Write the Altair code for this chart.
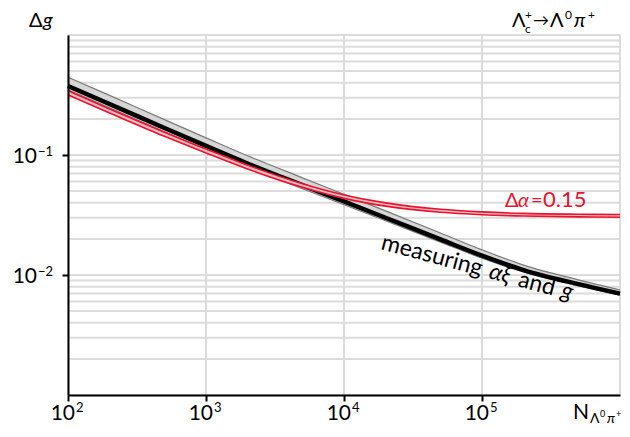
import altair as alt
import pandas as pd

# ---- data ----
N = [1e2, 2e2, 5e2, 1e3, 2e3, 5e3, 1e4, 2e4, 5e4, 1e5, 2e5, 5e5, 1e6]
black_center = [0.376, 0.266, 0.168, 0.119, 0.085, 0.056, 0.041, 0.030, 0.0198, 0.0145, 0.0110, 0.0084, 0.0070]
black_upper = [0.445, 0.314, 0.197, 0.139, 0.0985, 0.0645, 0.0470, 0.0342, 0.0224, 0.0162, 0.0121, 0.0091, 0.0075]
black_lower = [0.349, 0.247, 0.156, 0.111, 0.0795, 0.0525, 0.0385, 0.0283, 0.0188, 0.0138, 0.0106, 0.0081, 0.0068]
red_upper = [0.343, 0.242, 0.155, 0.112, 0.0823, 0.0576, 0.0465, 0.0399, 0.0353, 0.0336, 0.0326, 0.0321, 0.0319]
red_lower = [0.317, 0.224, 0.143, 0.104, 0.0765, 0.0538, 0.0435, 0.0375, 0.0333, 0.0318, 0.0310, 0.0305, 0.0303]

x_ticks = [1e2, 1e3, 1e4, 1e5]
x_tick_base = ["10", "10", "10", "10"]
x_tick_exp = ["2", "3", "4", "5"]
y_ticks = [1e-1, 1e-2]
y_tick_base = ["10", "10"]
y_tick_exp = ["−1", "−2"]
x_grid = [1e2, 1e3, 1e4, 1e5, 1e6]
y_grid = [m * 10.0 ** k for k in (-3, -2, -1) for m in range(1, 10)] + [1.0]

FONT = "Lato"
RED = "#e8132f"

df = pd.DataFrame({"N": N, "bc": black_center, "bu": black_upper, "bl": black_lower,
                   "ru": red_upper, "rl": red_lower})

xs = alt.Scale(type="log", domain=[1e2, 1e6], nice=False)
ys = alt.Scale(type="log", domain=[1e-3, 1.0], nice=False)

x_axis = alt.Axis(values=x_ticks, labels=False, grid=False, title=None,
                  domainColor="black", domainWidth=2, tickColor="black", tickWidth=2, tickSize=6,
                  zindex=2)
y_axis = alt.Axis(values=y_ticks, labels=False, grid=False, title=None,
                  domainColor="black", domainWidth=2, tickColor="black", tickWidth=2, tickSize=6,
                  zindex=2)


def XE(f):
    return alt.X(f"{f}:Q", scale=xs, axis=x_axis)


def YE(f):
    return alt.Y(f"{f}:Q", scale=ys, axis=y_axis)


hgrid = alt.Chart(pd.DataFrame({"g": y_grid})).mark_rule(color="#dcdcdc", strokeWidth=2).encode(y=YE("g"))
vgrid = alt.Chart(pd.DataFrame({"g": x_grid})).mark_rule(color="#dcdcdc", strokeWidth=2).encode(x=XE("g"))

base = alt.Chart(df)

black_band = base.mark_area(color="#d6d6d6", interpolate="monotone").encode(
    x=XE("N"), y=YE("bu"), y2="bl:Q")
black_up_line = base.mark_line(color="#7a7a7a", strokeWidth=1.2, interpolate="monotone").encode(
    x=XE("N"), y=YE("bu"))
black_lo_line = base.mark_line(color="#7a7a7a", strokeWidth=1.2, interpolate="monotone").encode(
    x=XE("N"), y=YE("bl"))
black_line = base.mark_line(color="black", strokeWidth=4.5, interpolate="monotone").encode(
    x=XE("N"), y=YE("bc"))

red_band = base.mark_area(color="#f6bcc4", interpolate="monotone").encode(
    x=XE("N"), y=YE("ru"), y2="rl:Q")
red_up_line = base.mark_line(color=RED, strokeWidth=1.6, interpolate="monotone").encode(
    x=XE("N"), y=YE("ru"))
red_lo_line = base.mark_line(color=RED, strokeWidth=1.6, interpolate="monotone").encode(
    x=XE("N"), y=YE("rl"))

# tick labels (10 with superscript exponent), positioned through the scales
xl = pd.DataFrame({"v": x_ticks, "b": x_tick_base, "e": x_tick_exp})
yl = pd.DataFrame({"v": y_ticks, "b": y_tick_base, "e": y_tick_exp})
xlab_base = alt.Chart(xl).mark_text(font=FONT, fontSize=21, align="right", baseline="alphabetic",
                                    dx=7, color="black").encode(
    x=XE("v"), y=alt.value(385), text="b:N")
xlab_exp = alt.Chart(xl).mark_text(font=FONT, fontSize=13, align="left", baseline="alphabetic",
                                   dx=8, color="black").encode(
    x=XE("v"), y=alt.value(377), text="e:N")
ylab_base = alt.Chart(yl).mark_text(font=FONT, fontSize=21, align="right", baseline="middle",
                                    dy=2, color="black").encode(
    x=alt.value(-31), y=YE("v"), text="b:N")
ylab_exp = alt.Chart(yl).mark_text(font=FONT, fontSize=13, align="left", baseline="middle",
                                   dy=-3, color="black").encode(
    x=alt.value(-30), y=YE("v"), text="e:N")

anchor = pd.DataFrame({"a": [0]})


def txt(s, x, y, size, color="black", italic=False, align="left", angle=0, baseline="alphabetic"):
    kw = dict(text=s, fontSize=size, color=color, font=FONT, align=align, baseline=baseline,
              fontStyle="italic" if italic else "normal")
    if angle:
        kw["angle"] = angle
    return alt.Chart(anchor).mark_text(**kw).encode(x=alt.value(x), y=alt.value(y))


texts = [
    # Δg (top-left)
    txt("Δ", -39, -8, 20),
    txt("g", -25, -8, 20, italic=True),
    # Λc+ → Λ0 π+ (top-right)
    txt("Λ", 444, -8, 20),
    txt("+", 457, -16, 12),
    txt("c", 457, -2, 12),
    txt("→", 465, -9, 16),
    txt("Λ", 482, -8, 20),
    txt("0", 497, -16, 12),
    txt("π", 506, -8, 20, italic=True),
    txt("+", 520, -16, 12),
    # x title N_{Λ0 π+}
    txt("N", 505, 384, 21),
    txt("Λ", 522, 388, 14),
    txt("0", 532, 382, 9),
    txt("π", 539, 388, 14, italic=True),
    txt("+", 548, 382, 9),
    # Δα = 0.15
    txt("Δ", 437, 172, 20, color=RED),
    txt("α", 450, 172, 20, color=RED, italic=True),
    txt("=", 463, 172, 20, color=RED),
    txt("0.15", 475, 172, 22, color=RED),
    # measuring αξ and g
    txt("measuring", 312, 214, 23, angle=15),
    txt("αξ", 420, 243, 23, italic=True, angle=15),
    txt("and", 449, 251, 23, angle=15),
    txt("g", 492, 262, 23, italic=True, angle=15),
]

chart = alt.layer(
    hgrid, vgrid,
    black_band, black_up_line, black_lo_line, black_line,
    red_band, red_up_line, red_lo_line,
    xlab_base, xlab_exp, ylab_base, ylab_exp,
    *texts,
).properties(
    width=552, height=360,
    autosize=alt.AutoSizeParams(type="none"),
    padding={"left": 60, "top": 27, "right": 2, "bottom": 30},
).configure_view(stroke=None)

chart.save("out.html", embed_options={"renderer": "svg", "actions": False})
